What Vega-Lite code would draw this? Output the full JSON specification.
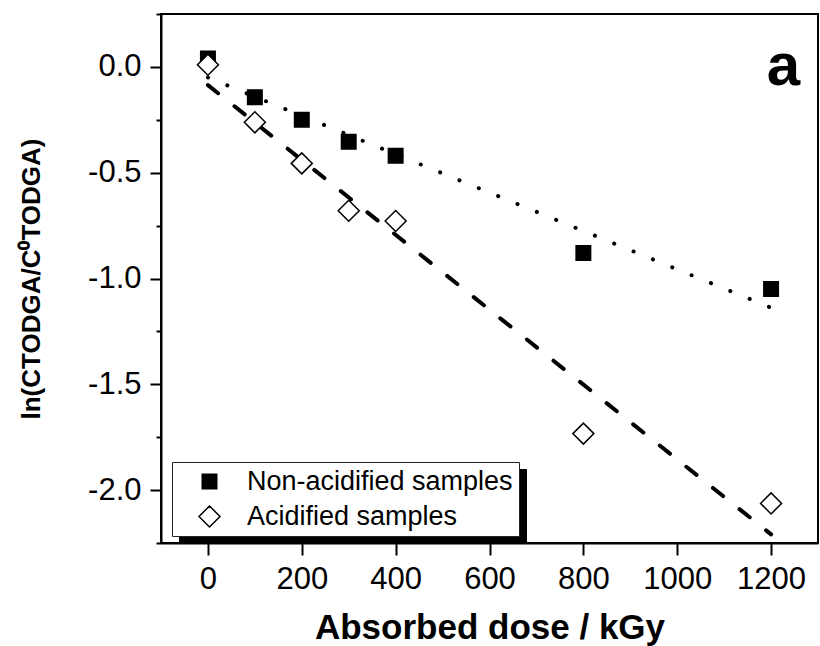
{
  "$schema": "https://vega.github.io/schema/vega-lite/v6.json",
  "width": 657,
  "height": 529,
  "autosize": {"type": "none"},
  "padding": {"left": 161, "top": 14, "right": 2, "bottom": 103},
  "background": "white",
  "config": {
    "view": {"stroke": "black", "strokeWidth": 2},
    "font": "Liberation Sans"
  },
  "title": {
    "text": "a",
    "orient": "top",
    "anchor": "end",
    "frame": "group",
    "offset": -69,
    "baseline": "alphabetic",
    "dx": -18,
    "dy": 78,
    "fontSize": 60,
    "fontWeight": "bold",
    "font": "Liberation Sans",
    "color": "black"
  },
  "datasets": {
    "points": [
      {"series": "Non-acidified samples", "dose": 0, "lnratio": 0.04},
      {"series": "Non-acidified samples", "dose": 100, "lnratio": -0.143},
      {"series": "Non-acidified samples", "dose": 200, "lnratio": -0.25},
      {"series": "Non-acidified samples", "dose": 300, "lnratio": -0.354},
      {"series": "Non-acidified samples", "dose": 400, "lnratio": -0.42},
      {"series": "Non-acidified samples", "dose": 800, "lnratio": -0.879},
      {"series": "Non-acidified samples", "dose": 1200, "lnratio": -1.05},
      {"series": "Acidified samples", "dose": 0, "lnratio": 0.01},
      {"series": "Acidified samples", "dose": 100, "lnratio": -0.262},
      {"series": "Acidified samples", "dose": 200, "lnratio": -0.456},
      {"series": "Acidified samples", "dose": 300, "lnratio": -0.68},
      {"series": "Acidified samples", "dose": 400, "lnratio": -0.728},
      {"series": "Acidified samples", "dose": 800, "lnratio": -1.733},
      {"series": "Acidified samples", "dose": 1200, "lnratio": -2.063}
    ],
    "fits": [
      {"series": "Non-acidified samples", "dose": 0, "lnratio": -0.05},
      {"series": "Non-acidified samples", "dose": 1200, "lnratio": -1.138},
      {"series": "Acidified samples", "dose": 0, "lnratio": -0.086},
      {"series": "Acidified samples", "dose": 1200, "lnratio": -2.209}
    ]
  },
  "encoding": {
    "x": {
      "field": "dose",
      "type": "quantitative",
      "scale": {"domain": [-100, 1300], "nice": false, "zero": false},
      "axis": {
        "title": "Absorbed dose / kGy",
        "titleFontSize": 35,
        "titleFontWeight": "bold",
        "titleFont": "Liberation Sans",
        "titleColor": "black",
        "titlePadding": 16,
        "values": [0, 200, 400, 600, 800, 1000, 1200],
        "format": "d",
        "labelFontSize": 31,
        "labelFont": "Liberation Sans",
        "labelColor": "black",
        "labelPadding": 9,
        "labelFlush": false,
        "labelOverlap": false,
        "tickSize": 12,
        "tickWidth": 2,
        "tickColor": "black",
        "domainColor": "black",
        "domainWidth": 2,
        "grid": false
      }
    },
    "y": {
      "field": "lnratio",
      "type": "quantitative",
      "scale": {"domain": [-2.25, 0.25], "nice": false, "zero": false},
      "axis": {
        "title": "ln(CTODGA/C⁰TODGA)",
        "titleFontSize": 26,
        "titleFontWeight": "bold",
        "titleFont": "Liberation Sans",
        "titleColor": "black",
        "titlePadding": 43,
        "values": [-2.25, -2, -1.75, -1.5, -1.25, -1, -0.75, -0.5, -0.25, 0, 0.25],
        "labelExpr": "abs(datum.value*2 - round(datum.value*2)) < 0.01 ? ((datum.value < 0 ? '-' : '') + format(abs(datum.value), '.1f')) : ''",
        "labelFontSize": 31,
        "labelFont": "Liberation Sans",
        "labelColor": "black",
        "labelPadding": 9,
        "labelOverlap": false,
        "tickSize": {"condition": {"test": "abs(datum.value*2 - round(datum.value*2)) < 0.01", "value": 11}, "value": 5},
        "tickWidth": 2,
        "tickColor": "black",
        "domainColor": "black",
        "domainWidth": 2,
        "grid": false
      }
    }
  },
  "layer": [
    {
      "data": {"name": "fits"},
      "mark": {"type": "line", "strokeWidth": 4, "strokeCap": "round", "color": "black"},
      "encoding": {
        "strokeDash": {
          "field": "series",
          "type": "nominal",
          "scale": {"domain": ["Acidified samples", "Non-acidified samples"], "range": [[13, 21], [0.1, 20.8]]},
          "legend": {
            "title": null,
            "orient": "none",
            "legendX": 18,
            "legendY": 455,
            "zindex": 1,
            "fillColor": "black",
            "strokeColor": "black",
            "padding": 6,
            "labelExpr": "''",
            "labelFontSize": 27,
            "labelFont": "Liberation Sans",
            "labelColor": "black",
            "labelLimit": 0,
            "symbolOffset": 18,
            "labelOffset": 290,
            "rowPadding": 7,
            "symbolSize": 441,
            "symbolStrokeColor": "black"
          }
        }
      }
    },
    {
      "data": {"name": "points"},
      "mark": {"type": "point", "filled": true, "opacity": 1, "stroke": "black", "strokeWidth": 1.5},
      "encoding": {
        "shape": {
          "field": "series",
          "type": "nominal",
          "scale": {"domain": ["Non-acidified samples", "Acidified samples"], "range": ["square", "diamond"]},
          "legend": {
            "title": null,
            "orient": "none",
            "legendX": 11,
            "legendY": 448,
            "zindex": 2,
            "fillColor": "white",
            "strokeColor": "#222222",
            "padding": 6,
            "labelFontSize": 27,
            "labelFont": "Liberation Sans",
            "labelColor": "black",
            "labelLimit": 0,
            "symbolOffset": 18,
            "labelOffset": 24,
            "rowPadding": 7,
            "symbolStrokeColor": "black",
            "symbolStrokeWidth": 1.5
          }
        },
        "fill": {
          "field": "series",
          "type": "nominal",
          "scale": {"domain": ["Non-acidified samples", "Acidified samples"], "range": ["black", "white"]}
        },
        "size": {
          "field": "series",
          "type": "nominal",
          "scale": {"domain": ["Non-acidified samples", "Acidified samples"], "range": [210, 441]}
        }
      }
    }
  ]
}
